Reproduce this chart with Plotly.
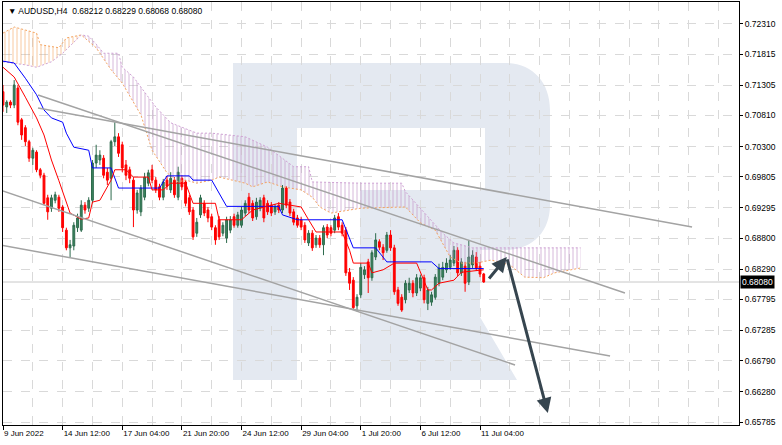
import plotly.graph_objects as go

# ---------------- data ----------------
bar_index = list(range(130))
open_ = [0.7120,0.7095,0.7103,0.7098,0.7126,0.7074,0.7061,0.7038,0.7011,0.7021,
         0.6992,0.6983,0.6946,0.6929,0.6942,0.6947,0.6931,0.6893,0.6864,0.6867,
         0.6897,0.6893,0.6934,0.6929,0.6942,0.7003,0.7008,0.7011,0.6988,0.6978,
         0.7038,0.7046,0.7033,0.7000,0.6992,0.6975,0.6926,0.6923,0.6947,0.6970,
         0.6992,0.6975,0.6964,0.6947,0.6975,0.6959,0.6975,0.6947,0.6978,0.6972,
         0.6946,0.6926,0.6888,0.6918,0.6937,0.6926,0.6915,0.6897,0.6910,0.6888,
         0.6880,0.6893,0.6915,0.6901,0.6901,0.6921,0.6947,0.6937,0.6915,0.6929,
         0.6946,0.6937,0.6934,0.6923,0.6934,0.6926,0.6962,0.6939,0.6923,0.6913,
         0.6910,0.6901,0.6872,0.6888,0.6869,0.6880,0.6869,0.6898,0.6897,0.6893,
         0.6915,0.6901,0.6893,0.6824,0.6811,0.6769,0.6787,0.6820,0.6841,0.6815,
         0.6849,0.6874,0.6865,0.6860,0.6885,0.6864,0.6795,0.6783,0.6779,0.6795,
         0.6806,0.6790,0.6798,0.6815,0.6773,0.6775,0.6783,0.6806,0.6816,0.6828,
         0.6832,0.6839,0.6860,0.6823,0.6834,0.6808,0.6836,0.6849,0.6834,0.68212]
close = [0.7098,0.7103,0.7098,0.7131,0.7070,0.7049,0.7038,0.7011,0.7024,0.6992,
         0.6983,0.6937,0.6923,0.6946,0.6951,0.6929,0.6897,0.6864,0.6869,0.6901,
         0.6913,0.6934,0.6926,0.6942,0.7003,0.7016,0.7016,0.6983,0.6975,0.7038,
         0.7046,0.7019,0.6995,0.6983,0.6978,0.6926,0.6954,0.6962,0.6980,0.6987,
         0.6975,0.6959,0.6947,0.6972,0.6965,0.6978,0.6951,0.6988,0.6964,0.6937,
         0.6923,0.6882,0.6906,0.6946,0.6921,0.6913,0.6898,0.6877,0.6882,0.6901,
         0.6910,0.6910,0.6901,0.6918,0.6926,0.6937,0.6926,0.6913,0.6939,0.6942,
         0.6913,0.6923,0.6921,0.6931,0.6926,0.6962,0.6934,0.6921,0.6906,0.6901,
         0.6898,0.6877,0.6888,0.6864,0.6880,0.6869,0.6897,0.6885,0.6888,0.6913,
         0.6898,0.6888,0.6823,0.6806,0.6766,0.6783,0.6832,0.6828,0.6815,0.6856,
         0.6877,0.6865,0.6856,0.6885,0.6864,0.6792,0.6773,0.6762,0.6806,0.6806,
         0.6790,0.6815,0.6815,0.6779,0.6795,0.6787,0.6816,0.6831,0.6832,0.6839,
         0.6844,0.6860,0.6823,0.6841,0.6806,0.6849,0.6852,0.6831,0.6821,0.68080]
high = [0.7131,0.7106,0.7106,0.7139,0.7131,0.7077,0.7065,0.7041,0.7028,0.7024,
        0.6995,0.6987,0.6951,0.6951,0.6956,0.6951,0.6934,0.6897,0.6877,0.6906,
        0.6920,0.6942,0.6939,0.6947,0.7008,0.7033,0.7024,0.7016,0.6995,0.7041,
        0.7070,0.7052,0.7038,0.7008,0.6997,0.6980,0.6959,0.6967,0.6987,0.6992,
        0.7000,0.6980,0.6969,0.6977,0.6982,0.6988,0.6980,0.6997,0.6983,0.6975,
        0.6951,0.6931,0.6913,0.6951,0.6942,0.6931,0.6920,0.6901,0.6916,0.6906,
        0.6915,0.6916,0.6920,0.6923,0.6931,0.6942,0.6954,0.6942,0.6946,0.6947,
        0.6951,0.6942,0.6939,0.6936,0.6939,0.6967,0.6965,0.6944,0.6928,0.6918,
        0.6915,0.6906,0.6893,0.6893,0.6885,0.6885,0.6901,0.6903,0.6901,0.6918,
        0.6921,0.6906,0.6898,0.6831,0.6816,0.6788,0.6839,0.6834,0.6846,0.6860,
        0.6888,0.6878,0.6870,0.6890,0.6893,0.6869,0.6800,0.6788,0.6811,0.6815,
        0.6811,0.6821,0.6820,0.6820,0.6800,0.6792,0.6821,0.6838,0.6841,0.6847,
        0.6852,0.6867,0.6865,0.6847,0.6841,0.6877,0.6860,0.6857,0.6841,0.68229]
low = [0.7087,0.7085,0.7093,0.7093,0.7065,0.7041,0.7031,0.7005,0.7000,0.6988,
       0.6978,0.6934,0.6910,0.6923,0.6937,0.6923,0.6890,0.6860,0.6849,0.6860,
       0.6890,0.6890,0.6920,0.6923,0.6937,0.6995,0.7000,0.6978,0.6967,0.6942,
       0.7031,0.7013,0.6988,0.6975,0.6970,0.6898,0.6920,0.6916,0.6942,0.6965,
       0.6970,0.6954,0.6942,0.6942,0.6959,0.6954,0.6946,0.6942,0.6959,0.6932,
       0.6918,0.6877,0.6882,0.6913,0.6916,0.6906,0.6893,0.6869,0.6877,0.6883,
       0.6872,0.6888,0.6897,0.6897,0.6897,0.6916,0.6921,0.6908,0.6910,0.6924,
       0.6906,0.6918,0.6916,0.6918,0.6921,0.6921,0.6929,0.6916,0.6901,0.6897,
       0.6893,0.6872,0.6867,0.6859,0.6864,0.6864,0.6852,0.6880,0.6883,0.6888,
       0.6893,0.6883,0.6818,0.6795,0.6762,0.6760,0.6782,0.6813,0.6790,0.6810,
       0.6844,0.6860,0.6844,0.6856,0.6859,0.6787,0.6769,0.6759,0.6773,0.6790,
       0.6783,0.6785,0.6793,0.6773,0.6762,0.6769,0.6779,0.6801,0.6811,0.6823,
       0.6828,0.6834,0.6818,0.6818,0.6792,0.6803,0.6831,0.6826,0.6816,0.68068]

# Ichimoku lines (bar index, price)
tenkan_x = [0,3,6,9,11,13,15,18,21,23,24,26,29,30,33,35,39,40,43,45,49,51,57,58,64,67,74,80,82,84,
            91,93,94,98,99,102,105,111,114,115,117,121,123,129]
tenkan_y = [0.7160,0.7144,0.7111,0.7077,0.7049,0.7008,0.6974,0.6921,0.6911,0.6913,0.6939,0.6942,0.6975,
            0.6992,0.6992,0.6980,0.6980,0.6959,0.6959,0.6970,0.6970,0.6937,0.6937,0.6910,0.6910,0.6926,
            0.6937,0.6931,0.6910,0.6890,0.6890,0.6860,0.6839,0.6839,0.6823,0.6828,0.6839,0.6839,0.6795,
            0.6795,0.6806,0.6811,0.6824,0.6828]
kijun_x = [0,3,6,9,11,13,16,17,19,23,24,29,31,42,44,50,51,56,60,74,75,79,91,94,100,103,115,117,129]
kijun_y = [0.7170,0.7167,0.7142,0.7115,0.7090,0.7077,0.7070,0.7052,0.7029,0.7024,0.6995,0.6995,0.6962,
           0.6962,0.6982,0.6982,0.6975,0.6975,0.6932,0.6932,0.6918,0.6910,0.6910,0.6864,0.6864,0.6841,
           0.6841,0.6830,0.6830]
spanA_x = [0,3,6,9,10,15,17,21,25,29,32,37,40,44,47,49,52,56,58,62,65,67,71,75,80,83,85,88,90,96,
           108,112,116,120,123,127,131,136,140,145,148,155]
spanA_y = [0.7216,0.7226,0.7221,0.7216,0.7197,0.7192,0.7208,0.7213,0.7192,0.7156,0.7134,0.7082,0.7024,
           0.6987,0.6972,0.6975,0.6970,0.6975,0.6980,0.6975,0.6970,0.6964,0.6972,0.6964,0.6959,0.6947,
           0.6931,0.6921,0.6923,0.6929,0.6931,0.6905,0.6893,0.6849,0.6839,0.6839,0.6844,0.6836,0.6816,
           0.6815,0.6823,0.6831]
spanB_x = [0,6,9,13,16,19,21,23,25,27,31,32,35,39,41,45,48,52,56,65,71,78,82,83,96,107,108,112,116,
           118,121,126,155]
spanB_y = [0.7169,0.7164,0.7160,0.7169,0.7183,0.7200,0.7213,0.7211,0.7198,0.7183,0.7183,0.7160,0.7144,
           0.7111,0.7095,0.7069,0.7062,0.7052,0.7052,0.7046,0.7029,0.6997,0.6997,0.6972,0.6970,0.6970,
           0.6956,0.6929,0.6901,0.6888,0.6872,0.6864,0.6864]

# trend lines: (start index, end index), (start price, end price)
trend_lines = [
    ([9.4, 166.9], [0.71146, 0.67900]),
    ([9.4, 184.9], [0.70932, 0.68982]),
    ([-0.8, 137.4], [0.69588, 0.66719]),
    ([-0.8, 162.9], [0.68687, 0.66867]),
]
# forecast arrows: (tail index, tail price, head index, head price)
arrows = [
    (130.1, 0.68113, 135.2, 0.68490),
    (135.2, 0.68474, 146.2, 0.65932),
]

x_tick_vals = [0, 16, 32, 48, 64, 80, 96, 112, 128]
x_tick_text = ["9 Jun 2022", "14 Jun 12:00", "17 Jun 04:00", "21 Jun 20:00", "24 Jun 12:00",
               "29 Jun 04:00", "1 Jul 20:00", "6 Jul 12:00", "11 Jul 04:00"]
y_tick_vals = [0.72310, 0.71815, 0.71305, 0.70810, 0.70300, 0.69805, 0.69295, 0.68800,
               0.68290, 0.67795, 0.67285, 0.66790, 0.66280, 0.65785]
last_price = 0.68080
title_text = "\u25bc AUDUSD,H4\u00a0 0.68212 0.68229 0.68068 0.68080"

# ---------------- figure ----------------
FONT = "Liberation Sans, Arial, sans-serif"
W, H = 782, 445
ML, MR, MT, MB = 3, 43, 2, 20
PW, PH = W - ML - MR, H - MT - MB

fig = go.Figure()


def seg(xs, ys, lo, hi):
    px = [x for x in xs if lo <= x <= hi]
    py = [y for x, y in zip(xs, ys) if lo <= x <= hi]
    return px, py


a1x, a1y = seg(spanA_x, spanA_y, 0, 21)
b1x, b1y = seg(spanB_x, spanB_y, 0, 21)
a2x, a2y = seg(spanA_x, spanA_y, 21, 999)
b2x, b2y = seg(spanB_x, spanB_y, 21, 999)

fig.add_trace(go.Scatter(
    x=a1x + b1x[::-1], y=a1y + b1y[::-1], mode="none", fill="toself",
    fillcolor="rgba(0,0,0,0)",
    fillpattern=dict(shape="|", fgcolor="#f4a460", fgopacity=0.75, size=4, solidity=0.2,
                     bgcolor="rgba(0,0,0,0)"),
    hoverinfo="skip", showlegend=False))
fig.add_trace(go.Scatter(
    x=b2x + a2x[::-1], y=b2y + a2y[::-1], mode="none", fill="toself",
    fillcolor="rgba(0,0,0,0)",
    fillpattern=dict(shape="|", fgcolor="#bf8fc6", fgopacity=0.8, size=4, solidity=0.2,
                     bgcolor="rgba(0,0,0,0)"),
    hoverinfo="skip", showlegend=False))

fig.add_trace(go.Scatter(x=spanA_x, y=spanA_y, mode="lines",
                         line=dict(color="#f4a460", width=1, dash="2px,2px"),
                         hoverinfo="skip", showlegend=False))
fig.add_trace(go.Scatter(x=spanB_x, y=spanB_y, mode="lines",
                         line=dict(color="#cfa2d4", width=1, dash="2px,2px"),
                         hoverinfo="skip", showlegend=False))
fig.add_trace(go.Scatter(x=kijun_x, y=kijun_y, mode="lines",
                         line=dict(color="#0000ff", width=1), showlegend=False))
fig.add_trace(go.Scatter(x=tenkan_x, y=tenkan_y, mode="lines",
                         line=dict(color="#ff0000", width=1), showlegend=False))

fig.add_trace(go.Candlestick(
    x=bar_index, open=open_, high=high, low=low, close=close,
    increasing=dict(line=dict(color="#2d6a4c", width=1), fillcolor="#3c8660"),
    decreasing=dict(line=dict(color="#ff0000", width=1), fillcolor="#ff0000"),
    whiskerwidth=0, showlegend=False))

for xs, ys in trend_lines:
    fig.add_trace(go.Scatter(x=xs, y=ys, mode="lines",
                             line=dict(color="#a3a3a3", width=1.5),
                             hoverinfo="skip", showlegend=False))

for tx, ty, hx, hy in arrows:
    fig.add_annotation(x=hx, y=hy, ax=tx, ay=ty, xref="x", yref="y", axref="x", ayref="y",
                       text="", showarrow=True, arrowhead=2, arrowsize=1, arrowwidth=3,
                       arrowcolor="#36454f", standoff=0, startstandoff=0)


# watermark "R" (decoration, pixel geometry converted to plot-area fractions)
def P(x, y):
    return f"{(x - ML) / PW:.5f},{1 - (y - MT) / PH:.5f}"


wm_paths = [
    f"M{P(233,63)} L{P(297,63)} L{P(297,380)} L{P(233,380)} Z",
    f"M{P(297,63)} L{P(505,63)} C{P(532,63)} {P(550,82)} {P(550,110)} L{P(550,205)} "
    f"C{P(550,232)} {P(532,250)} {P(505,250)} L{P(360,250)} L{P(360,190)} L{P(485,190)} "
    f"L{P(485,128)} L{P(297,128)} Z",
    f"M{P(360,250)} L{P(480,250)} L{P(480,317)} L{P(517,380)} L{P(360,380)} Z",
]
for p in wm_paths:
    fig.add_shape(type="path", path=p, xref="paper", yref="paper",
                  fillcolor="#e4e9f1", line=dict(width=0), layer="below")

fig.add_shape(type="line", xref="paper", x0=0, x1=1, yref="y", y0=last_price, y1=last_price,
              line=dict(color="#c8c8c8", width=1), layer="below")

fig.add_annotation(xref="paper", x=1, xanchor="left", yref="y", y=last_price,
                   text=f"{last_price:.5f}", showarrow=False, bgcolor="#000000",
                   font=dict(family=FONT, size=8.5, color="#ffffff"), borderpad=1, xshift=1)

fig.add_annotation(xref="paper", x=0, xanchor="left", yref="paper", y=1, yanchor="top",
                   text=title_text, showarrow=False, xshift=3, yshift=-2,
                   font=dict(family=FONT, size=8.5, color="#000000"))

grid = "#d9d9d9"
fig.update_layout(
    width=W, height=H,
    margin=dict(l=ML, r=MR, t=MT, b=MB),
    paper_bgcolor="#ffffff", plot_bgcolor="#ffffff",
    showlegend=False,
    font=dict(family=FONT, size=8.5, color="#000000"),
    xaxis=dict(
        range=[0, 197.5], tickmode="array", tickvals=x_tick_vals, ticktext=x_tick_text,
        ticks="outside", ticklen=4, tickcolor="#000000", ticklabelposition="outside right",
        tickfont=dict(family=FONT, size=8, color="#000000"),
        showgrid=True, gridcolor=grid, griddash="dash", gridwidth=1,
        minor=dict(tickmode="linear", tick0=0, dtick=8, showgrid=True, gridcolor=grid,
                   griddash="dash", gridwidth=1, ticks=""),
        showline=True, linecolor="#000000", linewidth=1, mirror=True,
        zeroline=False, rangeslider=dict(visible=False), fixedrange=True,
    ),
    yaxis=dict(
        side="right", range=[0.65736, 0.72670], tickmode="array", tickvals=y_tick_vals,
        ticktext=[f"{v:.5f}" for v in y_tick_vals],
        ticks="outside", ticklen=3, tickcolor="#000000",
        tickfont=dict(family=FONT, size=8.5, color="#000000"),
        showgrid=True, gridcolor=grid, griddash="dash", gridwidth=1,
        showline=True, linecolor="#000000", linewidth=1, mirror=True,
        zeroline=False, fixedrange=True,
    ),
)

fig.write_html("out.html", config={"displayModeBar": False},
               post_script="document.body.style.margin='0';document.body.style.overflow='hidden';")
